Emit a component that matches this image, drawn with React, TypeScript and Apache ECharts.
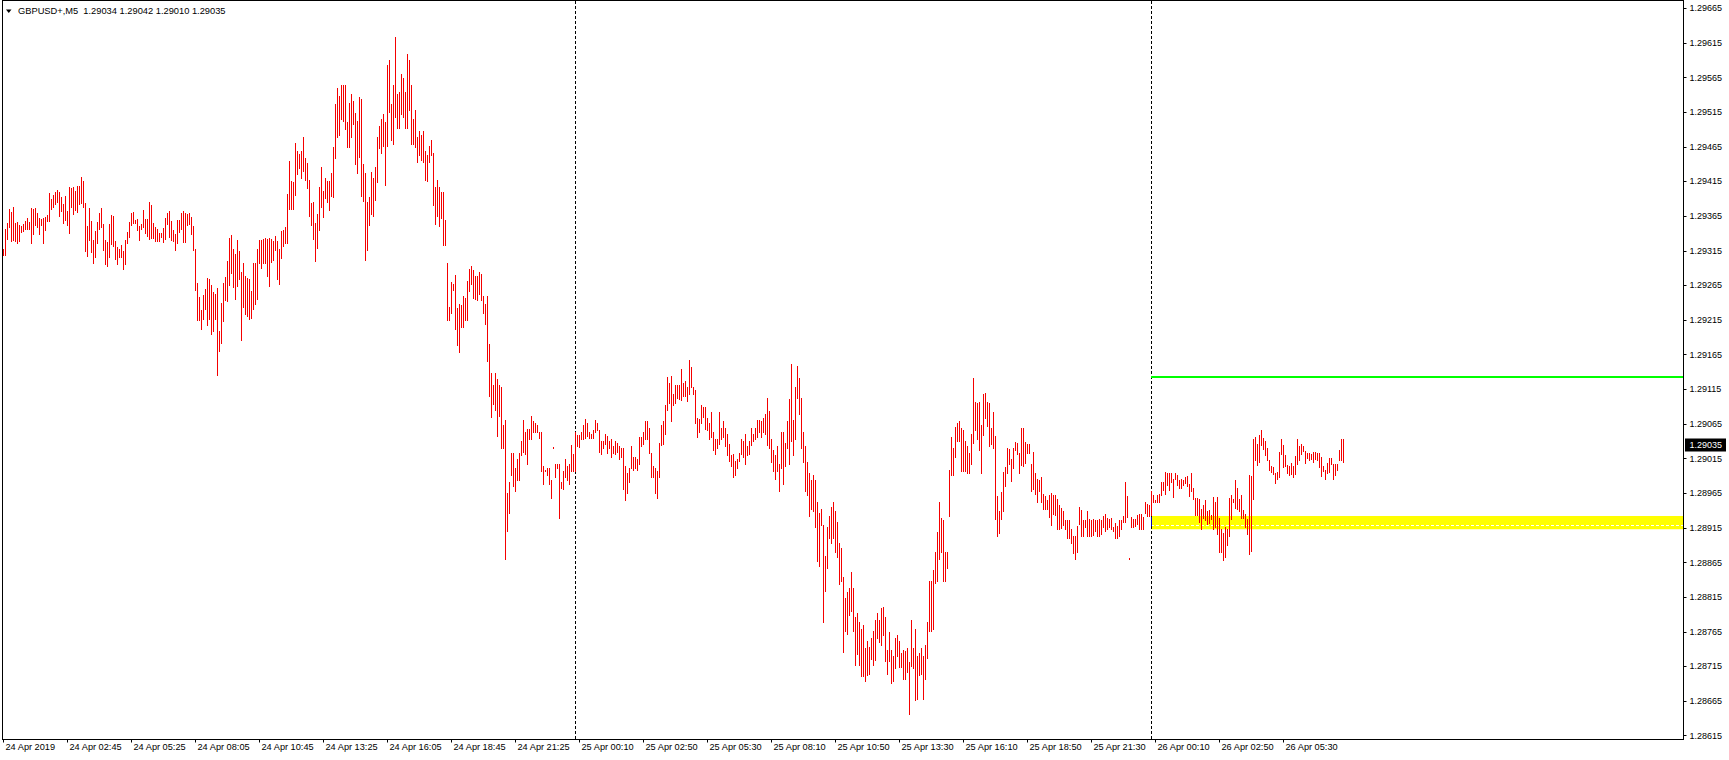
import React, { useEffect, useRef } from "react";
import * as echarts from "echarts";

// GBPUSD+ M5 bars (high / low of each 5-minute bar)
const day24High = [
  1.29317,1.29346,1.29354,1.29375,1.29370,1.29377,1.29354,1.29356,1.29351,1.29350,
  1.29353,1.29357,1.29362,1.29356,1.29376,1.29375,1.29376,1.29369,1.29362,1.29360,
  1.29362,1.29363,1.29366,1.29398,1.29389,1.29395,1.29399,1.29402,1.29399,1.29392,
  1.29382,1.29393,1.29372,1.29406,1.29405,1.29406,1.29400,1.29408,1.29408,1.29421,
  1.29415,1.29383,1.29350,1.29376,1.29357,1.29330,1.29343,1.29356,1.29369,1.29376,
  1.29353,1.29330,1.29327,1.29353,1.29366,1.29364,1.29328,1.29320,1.29317,1.29323,
  1.29314,1.29330,1.29341,1.29356,1.29369,1.29370,1.29359,1.29360,1.29350,1.29353,
  1.29373,1.29360,1.29360,1.29385,1.29380,1.29354,1.29349,1.29346,1.29340,1.29340,
  1.29347,1.29362,1.29369,1.29372,1.29357,1.29344,1.29339,1.29359,1.29359,1.29369,
  1.29372,1.29369,1.29367,1.29369,1.29363,1.29350,1.29317,1.29268,1.29248,1.29229,
  1.29251,1.29259,1.29275,1.29274,1.29265,1.29255,1.29252,1.29261,1.29199,1.29239,
  1.29268,1.29277,1.29300,1.29333,1.29337,1.29317,1.29310,1.29330,1.29314,1.29284,
  1.29297,1.29278,1.29275,1.29274,1.29256,1.29297,1.29297,1.29317,1.29330,1.29330,
  1.29331,1.29333,1.29331,1.29333,1.29331,1.29328,1.29336,1.29328,1.29317,1.29343,
  1.29344,1.29349,1.29396,1.29444,1.29415,1.29413,1.29470,1.29458,1.29454,1.29459,
  1.29479,1.29448,1.29441,1.29417,1.29383,1.29384,1.29355,1.29368,1.29407,1.29435,
  1.29400,1.29419,1.29415,1.29415,1.29426,1.29464,1.29526,1.29549,1.29538,1.29554,
  1.29554,1.29554,1.29500,1.29527,1.29541,1.29531,1.29513,1.29502,1.29536,1.29533,
  1.29439,1.29426,1.29384,1.29392,1.29428,1.29420,1.29435,1.29479,1.29495,1.29505,
  1.29511,1.29500,1.29583,1.29590,1.29526,1.29553,1.29623,1.29540,1.29544,1.29569,
  1.29564,1.29543,1.29599,1.29589,1.29554,1.29505,1.29518,1.29478,1.29487,1.29482,
  1.29487,1.29459,1.29453,1.29465,1.29474,1.29456,1.29406,1.29417,1.29406,1.29399,
  1.29399,1.29359,1.29297,1.29233,1.29269,1.29266,1.29279,1.29232,1.29238,1.29236,
  1.29249,1.29246,1.29271,1.29288,1.29292,1.29287,1.29278,1.29278,1.29284,1.29281,
  1.29249,1.29238,1.29249,1.29180,1.29138,1.29121,1.29138,1.29129,1.29121,1.29118,
  1.29063,1.29070,1.28965,1.28980,1.29023,1.29023,1.29001,1.29013,1.29023,1.29040,
  1.29070,1.29053,1.29057,1.29057,1.29076,1.29068,1.29065,1.29063,1.29053,1.29052,
  1.29004,1.28998,1.29000,1.29000,1.28983,1.29031,1.29007,1.29007,1.29007,1.28981,
  1.28996,1.29014,1.29003,1.29007,1.29034,1.29021,
];
const day24Low = [
  1.29308,1.29308,1.29331,1.29349,1.29328,1.29330,1.29328,1.29326,1.29328,1.29341,
  1.29343,1.29346,1.29346,1.29346,1.29326,1.29339,1.29351,1.29349,1.29339,1.29351,
  1.29326,1.29344,1.29357,1.29357,1.29375,1.29377,1.29382,1.29385,1.29364,1.29372,
  1.29354,1.29359,1.29351,1.29340,1.29377,1.29367,1.29373,1.29370,1.29382,1.29383,
  1.29377,1.29314,1.29307,1.29330,1.29313,1.29297,1.29305,1.29326,1.29346,1.29349,
  1.29315,1.29295,1.29292,1.29305,1.29324,1.29321,1.29303,1.29295,1.29305,1.29305,
  1.29288,1.29295,1.29326,1.29334,1.29351,1.29354,1.29354,1.29344,1.29330,1.29346,
  1.29349,1.29340,1.29336,1.29331,1.29333,1.29333,1.29328,1.29328,1.29328,1.29334,
  1.29327,1.29331,1.29353,1.29334,1.29330,1.29328,1.29315,1.29326,1.29341,1.29346,
  1.29327,1.29327,1.29351,1.29353,1.29339,1.29315,1.29258,1.29215,1.29215,1.29202,
  1.29216,1.29230,1.29207,1.29216,1.29194,1.29199,1.29216,1.29135,1.29170,1.29181,
  1.29213,1.29243,1.29242,1.29265,1.29282,1.29262,1.29245,1.29264,1.29274,1.29186,
  1.29233,1.29223,1.29220,1.29216,1.29217,1.29230,1.29238,1.29245,1.29297,1.29290,
  1.29297,1.29297,1.29278,1.29264,1.29298,1.29301,1.29315,1.29274,1.29266,1.29304,
  1.29321,1.29326,1.29326,1.29375,1.29375,1.29375,1.29395,1.29425,1.29434,1.29419,
  1.29429,1.29416,1.29405,1.29364,1.29351,1.29331,1.29299,1.29318,1.29344,1.29377,
  1.29363,1.29390,1.29384,1.29373,1.29394,1.29392,1.29448,1.29478,1.29481,1.29505,
  1.29501,1.29490,1.29464,1.29464,1.29478,1.29497,1.29439,1.29426,1.29449,1.29393,
  1.29386,1.29301,1.29315,1.29351,1.29367,1.29364,1.29387,1.29413,1.29462,1.29455,
  1.29465,1.29409,1.29465,1.29514,1.29474,1.29468,1.29507,1.29492,1.29492,1.29511,
  1.29507,1.29492,1.29492,1.29517,1.29468,1.29468,1.29464,1.29443,1.29453,1.29445,
  1.29443,1.29416,1.29415,1.29442,1.29452,1.29380,1.29353,1.29364,1.29350,1.29361,
  1.29322,1.29323,1.29215,1.29215,1.29225,1.29258,1.29202,1.29178,1.29168,1.29204,
  1.29204,1.29215,1.29215,1.29256,1.29266,1.29246,1.29245,1.29243,1.29252,1.29243,
  1.29225,1.29209,1.29155,1.29104,1.29075,1.29093,1.29085,1.29047,1.29076,1.29029,
  1.29029,1.28870,1.28910,1.28936,1.28990,1.28975,1.28967,1.28984,1.28983,1.29019,
  1.29024,1.29021,1.29007,1.29043,1.29043,1.29053,1.29053,1.29052,1.29044,1.28997,
  1.28977,1.28996,1.28991,1.28977,1.28957,1.29030,1.28987,1.29000,1.28928,1.28972,
  1.28971,1.28987,1.28984,1.28977,1.28996,1.28996,
];
const day25High = [
  1.29052,1.29049,1.29049,1.29052,1.29063,1.29072,1.29065,1.29052,1.29050,1.29056,
  1.29070,1.29065,1.29055,1.29040,1.29040,1.29050,1.29047,1.29040,1.29042,1.29033,
  1.29040,1.29037,1.29033,1.29030,1.29029,1.29003,1.28994,1.29000,1.29033,1.29017,
  1.29017,1.29014,1.29046,1.29046,1.29053,1.29068,1.29069,1.29059,1.29023,1.29003,
  1.29000,1.28996,1.29037,1.29063,1.29069,1.29091,1.29132,1.29124,1.29134,1.29108,
  1.29121,1.29121,1.29121,1.29144,1.29124,1.29127,1.29118,1.29157,1.29147,1.29118,
  1.29114,1.29073,1.29072,1.29092,1.29089,1.29089,1.29073,1.29066,1.29082,1.29053,
  1.29043,1.29043,1.29081,1.29059,1.29069,1.29059,1.29050,1.29036,1.29020,1.29021,
  1.29011,1.29013,1.29023,1.29043,1.29040,1.29050,1.29033,1.29039,1.29059,1.29050,
  1.29059,1.29070,1.29070,1.29068,1.29073,1.29078,1.29102,1.29083,1.29043,1.29026,
  1.29019,1.29032,1.29007,1.29052,1.29053,1.29037,1.29069,1.29101,1.29151,1.29070,
  1.29117,1.29148,1.29131,1.29102,1.29053,1.29032,1.29010,1.28994,1.28984,1.28991,
  1.28984,1.28952,1.28936,1.28942,1.28919,1.28874,1.28915,1.28932,1.28944,1.28952,
  1.28939,1.28923,1.28893,1.28885,1.28844,1.28813,1.28821,1.28828,1.28851,1.28827,
  1.28785,1.28791,1.28779,1.28769,1.28774,1.28741,1.28751,1.28742,1.28756,1.28766,
  1.28781,1.28791,1.28782,1.28798,1.28800,1.28785,1.28738,1.28764,1.28738,1.28730,
  1.28756,1.28759,1.28751,1.28733,1.28738,1.28736,1.28741,1.28720,1.28781,1.28741,
  1.28769,1.28729,1.28733,1.28741,1.28730,1.28745,1.28778,1.28838,1.28838,1.28853,
  1.28879,1.28909,1.28952,1.28929,1.28926,1.28880,1.28880,1.28998,1.29045,1.29030,
  1.29060,1.29066,1.29069,1.29059,1.29056,1.29039,1.29032,1.29023,1.29050,1.29131,
  1.29096,1.29095,1.29096,1.29063,1.29108,1.29109,1.29096,1.29095,1.29059,1.29082,
  1.29047,1.28961,1.28939,1.28966,1.28995,1.29002,1.29030,1.29028,1.29014,1.29030,
  1.29038,1.29037,1.29023,1.29059,1.29059,1.29038,1.29036,1.29036,1.29007,1.29024,
  1.28994,1.28985,1.28984,1.28988,1.28963,1.28961,1.28955,1.28962,1.28965,1.28962,
  1.28962,1.28956,1.28948,1.28943,1.28939,1.28925,1.28926,1.28925,1.28912,1.28903,
  1.28903,1.28917,1.28945,1.28940,1.28926,1.28926,1.28938,1.28927,1.28926,1.28927,
  1.28925,1.28925,1.28927,1.28926,1.28932,1.28935,1.28929,1.28927,1.28929,1.28915,
  1.28922,1.28917,1.28925,1.28926,1.28932,1.28981,1.28961,1.28871,1.28930,1.28927,
  1.28927,1.28933,1.28935,1.28935,1.28930,1.28951,1.28949,1.28948,
];
const day25Low = [
  1.28997,1.29033,1.29031,1.29043,1.29043,1.29044,1.29047,1.29044,1.29044,1.29044,
  1.29052,1.29056,1.29024,1.29021,1.29029,1.29036,1.29023,1.29029,1.29017,1.29023,
  1.29021,1.29024,1.29014,1.29017,1.28970,1.28955,1.28964,1.28980,1.29001,1.28998,
  1.29000,1.28998,1.29007,1.29033,1.29036,1.29042,1.29042,1.29023,1.28988,1.28987,
  1.28965,1.28958,1.28987,1.29034,1.29036,1.29050,1.29085,1.29095,1.29068,1.29091,
  1.29095,1.29102,1.29101,1.29099,1.29105,1.29105,1.29098,1.29108,1.29117,1.29108,
  1.29065,1.29046,1.29052,1.29066,1.29075,1.29057,1.29055,1.29043,1.29045,1.29027,
  1.29021,1.29029,1.29036,1.29042,1.29046,1.29032,1.29020,1.29011,1.29003,1.28988,
  1.28990,1.29000,1.29011,1.29021,1.29016,1.29007,1.29020,1.29021,1.29034,1.29039,
  1.29043,1.29045,1.29052,1.29046,1.29053,1.29050,1.29034,1.29029,1.29009,1.28996,
  1.28985,1.28996,1.28968,1.29001,1.28977,1.29003,1.29029,1.29007,1.29039,1.29019,
  1.29042,1.29102,1.29079,1.29029,1.29010,1.28967,1.28962,1.28932,1.28942,1.28938,
  1.28915,1.28867,1.28859,1.28919,1.28779,1.28823,1.28857,1.28899,1.28893,1.28900,
  1.28880,1.28872,1.28833,1.28837,1.28735,1.28765,1.28761,1.28788,1.28795,1.28765,
  1.28716,1.28732,1.28717,1.28700,1.28700,1.28693,1.28702,1.28704,1.28725,1.28717,
  1.28723,1.28755,1.28749,1.28745,1.28759,1.28722,1.28704,1.28722,1.28691,1.28693,
  1.28712,1.28729,1.28713,1.28713,1.28696,1.28696,1.28706,1.28645,1.28715,1.28712,
  1.28666,1.28667,1.28702,1.28703,1.28667,1.28696,1.28726,1.28765,1.28766,1.28768,
  1.28834,1.28837,1.28869,1.28879,1.28837,1.28837,1.28857,1.28931,1.28990,1.28990,
  1.29016,1.29040,1.29040,1.28996,1.28996,1.28996,1.28994,1.28994,1.29007,1.29037,
  1.29055,1.29042,1.29027,1.28993,1.29049,1.29073,1.29062,1.29032,1.29036,1.29030,
  1.28927,1.28903,1.28907,1.28927,1.28939,1.28974,1.28994,1.29007,1.28982,1.29001,
  1.29027,1.29021,1.28994,1.29005,1.29004,1.29008,1.29023,1.29023,1.28968,1.28971,
  1.28963,1.28952,1.28968,1.28952,1.28942,1.28942,1.28942,1.28930,1.28918,1.28934,
  1.28933,1.28912,1.28912,1.28914,1.28919,1.28912,1.28899,1.28899,1.28893,1.28878,
  1.28870,1.28880,1.28920,1.28903,1.28903,1.28916,1.28903,1.28903,1.28903,1.28904,
  1.28910,1.28903,1.28903,1.28906,1.28916,1.28910,1.28913,1.28916,1.28913,1.28910,
  1.28899,1.28900,1.28903,1.28913,1.28923,1.28923,1.28930,1.28870,1.28915,1.28916,
  1.28917,1.28920,1.28913,1.28912,1.28913,1.28936,1.28932,1.28932,
];
const day26High = [
  1.28968,1.28962,1.28955,1.28962,1.28963,1.28981,1.28981,1.28995,1.28994,1.28994,
  1.28994,1.28985,1.28994,1.28991,1.28984,1.28985,1.28984,1.28988,1.28989,1.28978,
  1.28994,1.28972,1.28958,1.28958,1.28956,1.28942,1.28948,1.28955,1.28938,1.28940,
  1.28933,1.28959,1.28952,1.28959,1.28929,1.28913,1.28907,1.28915,1.28913,1.28958,
  1.28962,1.28956,1.28984,1.28972,1.28956,1.28962,1.28940,1.28935,1.28927,1.28991,
  1.28989,1.29043,1.29046,1.29036,1.29048,1.29056,1.29044,1.29040,1.29030,1.29012,
  1.29004,1.29002,1.28994,1.28995,1.29024,1.29043,1.29034,1.29020,1.29005,1.29004,
  1.29008,1.29004,1.29018,1.29043,1.29033,1.29036,1.29033,1.29025,1.29023,1.29023,
  1.29021,1.29024,1.29024,1.29023,1.29023,1.29017,1.29004,1.28998,1.29008,1.29015,
  1.29015,1.29007,1.29007,1.29007,1.29027,1.29043,1.29042,
];
const day26Low = [
  1.28933,1.28951,1.28951,1.28951,1.28951,1.28962,1.28969,1.28963,1.28976,1.28969,
  1.28981,1.28959,1.28985,1.28976,1.28972,1.28972,1.28976,1.28979,1.28974,1.28961,
  1.28968,1.28956,1.28933,1.28933,1.28923,1.28912,1.28929,1.28925,1.28920,1.28922,
  1.28927,1.28913,1.28916,1.28906,1.28880,1.28880,1.28868,1.28872,1.28890,1.28903,
  1.28927,1.28951,1.28943,1.28942,1.28939,1.28929,1.28929,1.28915,1.28906,1.28877,
  1.28881,1.28956,1.29012,1.29005,1.29010,1.29034,1.29028,1.29020,1.29012,1.28998,
  1.28995,1.28992,1.28979,1.28985,1.28988,1.29021,1.29002,1.29004,1.28994,1.28991,
  1.28992,1.28987,1.28992,1.29007,1.29012,1.29021,1.29025,1.29008,1.29015,1.29012,
  1.29014,1.29010,1.29014,1.29012,1.29002,1.28989,1.28997,1.28985,1.28994,1.28995,
  1.29007,1.28985,1.28991,1.28998,1.29012,1.29012,1.29010,
];

const tickLabels = [
  "24 Apr 2019", "24 Apr 02:45", "24 Apr 05:25", "24 Apr 08:05", "24 Apr 10:45",
  "24 Apr 13:25", "24 Apr 16:05", "24 Apr 18:45", "24 Apr 21:25",
  "25 Apr 00:10", "25 Apr 02:50", "25 Apr 05:30", "25 Apr 08:10", "25 Apr 10:50",
  "25 Apr 13:30", "25 Apr 16:10", "25 Apr 18:50", "25 Apr 21:30",
  "26 Apr 00:10", "26 Apr 02:50", "26 Apr 05:30",
];

const symbolName = "GBPUSD+,M5";
const lastOHLC = [1.29034, 1.29042, 1.2901, 1.29035];
const greenLevel = 1.29133;
const zoneTop = 1.28932;
const zoneBottom = 1.28913;
const zoneLine = 1.28918;
const daySeparators = [286, 574];
const yMinTick = 1.28615;
const yMaxTick = 1.29665;
const yStep = 0.0005;

const SLOTS = 840;
const LABEL_EVERY = 32;
const FONT = "'Liberation Sans', Arial, sans-serif";
const BAR_COLOR = "#f50000";

const pts = (p: number) => Math.round(p * 100000);

export default function App() {
  const ref = useRef<HTMLDivElement>(null);

  useEffect(() => {
    document.body.style.margin = "0";
    const chart = echarts.init(ref.current!, null, { renderer: "svg" });

    const highs = [...day24High, ...day25High, ...day26High];
    const lows = [...day24Low, ...day25Low, ...day26Low];
    const bars = highs.map((h, i) => [i, pts(lows[i]), pts(h)]);
    const categories = Array.from({ length: SLOTS }, (_, i) =>
      i % LABEL_EVERY === 0 && i / LABEL_EVERY < tickLabels.length ? tickLabels[i / LABEL_EVERY] : ""
    );
    const showAt = (_i: number, v: string) => v !== "";

    const GRID_LEFT = 2.5;
    const GRID_TOP = 8.3;
    const GRID_W = 1680;
    const GRID_H = 727.4;
    const FRAME_L = 2.5;
    const FRAME_R = 1683.5;
    const FRAME_T = 0.5;
    const FRAME_B = 739.5;

    chart.setOption({
      animation: false,
      backgroundColor: "#ffffff",
      title: {
        text: symbolName + "  " + lastOHLC.map((v) => v.toFixed(5)).join(" "),
        left: 18,
        top: 6,
        padding: 0,
        textStyle: { fontSize: 9.3, fontWeight: "normal", color: "#000", fontFamily: FONT },
      },
      grid: { left: GRID_LEFT, top: GRID_TOP, width: GRID_W, height: GRID_H },
      xAxis: {
        type: "category",
        data: categories,
        boundaryGap: true,
        offset: 3.8,
        axisLine: { show: false },
        axisTick: { show: true, alignWithLabel: true, length: 3, interval: showAt, lineStyle: { color: "#000" } },
        axisLabel: {
          interval: showAt,
          align: "left",
          margin: 3,
          fontSize: 9.2,
          color: "#000",
          fontFamily: FONT,
          padding: [0, 0, 0, 2],
        },
        splitLine: { show: false },
      },
      yAxis: {
        type: "value",
        position: "right",
        min: pts(yMinTick),
        max: pts(yMaxTick),
        interval: pts(yStep),
        offset: 1,
        scale: true,
        axisLine: { show: false },
        axisTick: { show: true, length: 3, lineStyle: { color: "#000" } },
        axisLabel: {
          margin: 6,
          fontSize: 9,
          color: "#000",
          fontFamily: FONT,
          showMinLabel: true,
          showMaxLabel: true,
          formatter: (v: number) => (v / 100000).toFixed(5),
        },
        splitLine: { show: false },
      },
      series: [
        {
          type: "custom",
          name: "GBPUSD+",
          data: bars,
          encode: { x: 0, y: [1, 2] },
          z: 3,
          renderItem: (_params: any, api: any) => {
            const j = api.value(0);
            const top = api.coord([j, api.value(2)]);
            const bot = api.coord([j, api.value(1)]);
            const y0 = Math.floor(top[1]);
            const y1 = Math.ceil(bot[1]);
            return {
              type: "rect",
              shape: { x: Math.round(top[0] - 0.5), y: y0, width: 1, height: Math.max(1, y1 - y0) },
              style: { fill: BAR_COLOR },
            };
          },
        },
      ],
    });

    const toPx = (j: number, p: number) => chart.convertToPixel({ gridIndex: 0 }, [j, pts(p)]) as number[];
    const startX = toPx(daySeparators[1], greenLevel)[0] - 0.5;
    const row = (p: number) => Math.floor(toPx(0, p)[1]) + 0.5;
    const zTop = toPx(0, zoneTop)[1];
    const zBot = toPx(0, zoneBottom)[1];
    const closeY = toPx(0, lastOHLC[3])[1];

    const elements: any[] = [
      // frame
      { type: "line", z: 20, shape: { x1: FRAME_L, y1: 0, x2: FRAME_L, y2: FRAME_B }, style: { stroke: "#000", lineWidth: 1 } },
      { type: "line", z: 20, shape: { x1: FRAME_R, y1: 0, x2: FRAME_R, y2: FRAME_B + 0.5 }, style: { stroke: "#000", lineWidth: 1 } },
      { type: "line", z: 20, shape: { x1: 2, y1: FRAME_B, x2: FRAME_R + 0.5, y2: FRAME_B }, style: { stroke: "#000", lineWidth: 1 } },
      { type: "line", z: 20, shape: { x1: 2, y1: FRAME_T, x2: FRAME_R + 0.5, y2: FRAME_T }, style: { stroke: "#000", lineWidth: 1 } },
      // support zone
      {
        type: "rect",
        z: 0,
        shape: { x: startX, y: zTop, width: FRAME_R - 0.5 - startX, height: zBot - zTop },
        style: { fill: "#ffff00" },
      },
      {
        type: "line",
        z: 1,
        shape: { x1: startX, y1: row(zoneLine), x2: FRAME_R - 0.5, y2: row(zoneLine) },
        style: { stroke: "#ffffff", lineWidth: 1, lineDash: [3, 2] },
      },
      // green level
      {
        type: "line",
        z: 5,
        shape: { x1: startX, y1: Math.round(toPx(0, greenLevel)[1]), x2: FRAME_R - 0.5, y2: Math.round(toPx(0, greenLevel)[1]) },
        style: { stroke: "#00ff00", lineWidth: 2 },
      },
      // current price box
      { type: "rect", z: 21, shape: { x: 1685, y: Math.round(closeY) - 6.5, width: 41, height: 13 }, style: { fill: "#000" } },
      {
        type: "text",
        z: 22,
        x: 1689.5,
        y: Math.round(closeY),
        style: {
          text: lastOHLC[3].toFixed(5),
          fill: "#fff",
          fontSize: 9,
          fontFamily: FONT,
          verticalAlign: "middle",
          align: "left",
        },
      },
      // menu triangle
      { type: "polygon", z: 22, shape: { points: [[6, 9.5], [11.5, 9.5], [8.75, 13]] }, style: { fill: "#000" } },
    ];
    daySeparators.forEach((j) => {
      const x = toPx(j, greenLevel)[0];
      elements.push({
        type: "line",
        z: 1,
        shape: { x1: x, y1: 1, x2: x, y2: FRAME_B - 0.5 },
        style: { stroke: "#000", lineWidth: 1, lineDash: [3, 2] },
      });
    });
    // separator seen through the yellow zone
    elements.push({
      type: "line",
      z: 1,
      shape: { x1: startX + 0.5, y1: zTop + 1, x2: startX + 0.5, y2: zBot - 3 },
      style: { stroke: "#0000c0", lineWidth: 1 },
    });

    chart.setOption({ graphic: { elements } });

    return () => chart.dispose();
  }, []);

  return <div ref={ref} style={{ position: "absolute", left: 0, top: 0, width: 1729, height: 760 }} />;
}
